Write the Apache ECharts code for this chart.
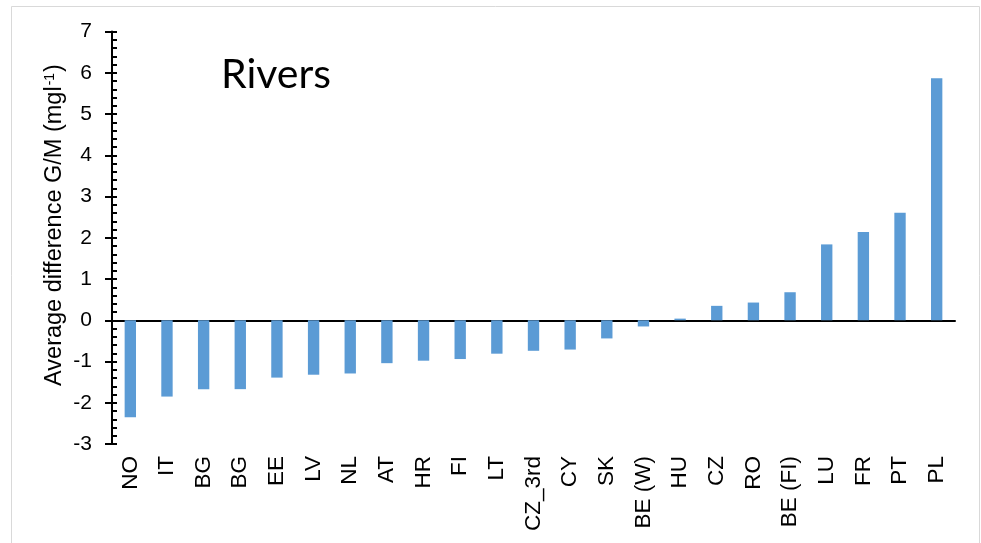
<!DOCTYPE html>
<html>
<head>
<meta charset="utf-8">
<script src="https://cdn.jsdelivr.net/npm/echarts@6/dist/echarts.min.js"></script>
<style>
  html, body { margin: 0; padding: 0; background: #ffffff; }
  #chart { width: 981px; height: 543px; }
</style>
</head>
<body>
<div id="chart"></div>
<script>
// Member states, ordered by average difference
var categories = ['NO', 'IT', 'BG', 'BG', 'EE', 'LV', 'NL', 'AT', 'HR', 'FI', 'LT', 'CZ_3rd', 'CY', 'SK',
  'BE (W)', 'HU', 'CZ', 'RO', 'BE (FI)', 'LU', 'FR', 'PT', 'PL'];

// Average difference G/M (mg/l)
var avgDifference = [-2.35, -1.85, -1.67, -1.67, -1.39, -1.32, -1.29, -1.04, -0.98, -0.94, -0.81, -0.74, -0.71, -0.44,
  -0.15, 0.04, 0.35, 0.43, 0.68, 1.84, 2.14, 2.61, 5.87];

var yMin = -3, yMax = 7, yStep = 1;

var chart = echarts.init(document.getElementById('chart'));
var font = '"Liberation Sans", Arial, sans-serif';

chart.setOption({
  animation: false,
  backgroundColor: '#ffffff',
  title: {
    text: 'Rivers',
    left: 221,
    top: 54,
    padding: 0,
    textStyle: { fontFamily: 'Lato, Carlito, sans-serif', fontSize: 41, fontWeight: 'normal', color: '#000000' }
  },
  graphic: [{
    type: 'rect',
    shape: { x: 11.5, y: 6.5, width: 968, height: 600 },
    style: { fill: 'none', stroke: '#d9d9d9', lineWidth: 1 },
    silent: true,
    z: -1
  }, {
    // value axis title with superscript unit exponent
    type: 'text',
    x: 55,
    y: 225,
    rotation: Math.PI / 2,
    silent: true,
    style: {
      text: '{n|Average difference G/M (mgl}{s|-1}{n|)}',
      align: 'center',
      verticalAlign: 'middle',
      rich: {
        n: { fontFamily: font, fontSize: 23.5, fill: '#000000' },
        s: { fontFamily: font, fontSize: 14, fill: '#000000', verticalAlign: 'top', padding: [0, 1, 10, 1] }
      }
    }
  }],
  grid: { left: 112, right: 26, top: 31.6, bottom: 99, containLabel: false },
  xAxis: [{
    type: 'category',
    data: categories,
    position: 'bottom',
    axisLine: { show: false, onZero: false },
    axisTick: { show: false },
    axisLabel: {
      rotate: 90, interval: 0, margin: 12,
      fontFamily: font, fontSize: 22.5, color: '#000000'
    },
    splitLine: { show: false }
  }, {
    type: 'category',
    data: categories,
    axisLine: { show: true, onZero: true, lineStyle: { color: '#000000', width: 2 } },
    axisTick: { show: false },
    axisLabel: { show: false },
    splitLine: { show: false }
  }],
  yAxis: [{
    type: 'value',
    min: yMin, max: yMax, interval: yStep,
    position: 'left',
    axisLine: { show: true, lineStyle: { color: '#000000', width: 2 } },
    axisTick: { show: true, length: 7, lineStyle: { color: '#000000', width: 2 } },
    axisLabel: { margin: 20, fontFamily: font, fontSize: 21, color: '#000000' },
    splitLine: { show: false }
  }, {
    // inner tick marks on the value axis
    type: 'value',
    min: yMin, max: yMax, interval: yStep,
    position: 'right',
    offset: -843,
    axisLine: { show: false },
    axisTick: { show: true, length: 5, lineStyle: { color: '#000000', width: 2 } },
    minorTick: { show: true, splitNumber: 5, length: 5, lineStyle: { color: '#000000', width: 2 } },
    axisLabel: { show: false },
    splitLine: { show: false },
    minorSplitLine: { show: false }
  }],
  series: [{
    type: 'bar',
    xAxisIndex: 0,
    yAxisIndex: 0,
    data: avgDifference,
    barWidth: '31%',
    itemStyle: { color: '#5b9bd5' },
    z: 1
  }]
});
</script>
</body>
</html>
